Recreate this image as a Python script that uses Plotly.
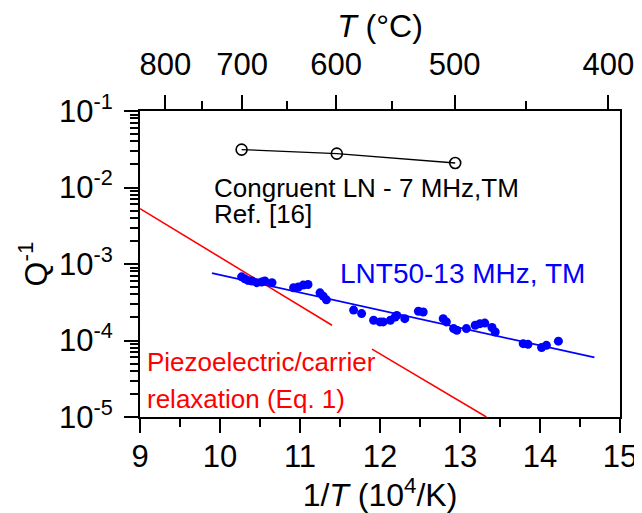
import plotly.graph_objects as go

# ---- data ----
# LNT50 13 MHz TM measured points: 1/T (10^4/K), Q^-1
lnt_x = [10.27, 10.31, 10.35, 10.40, 10.46, 10.52, 10.56, 10.65,
         10.92, 10.98, 11.04, 11.10, 11.25, 11.29, 11.33,
         11.67, 11.77, 11.92, 12.00, 12.04, 12.13, 12.19, 12.21, 12.31,
         12.48, 12.54, 12.79, 12.83, 12.92, 12.96, 13.08, 13.19, 13.25,
         13.31, 13.40, 13.44, 13.79, 13.85, 14.02, 14.08, 14.23]
lnt_y = [6.8e-4, 6.4e-4, 6.1e-4, 6.0e-4, 5.7e-4, 5.8e-4, 6.0e-4, 5.7e-4,
         4.9e-4, 5.0e-4, 5.3e-4, 5.4e-4, 4.2e-4, 3.8e-4, 3.4e-4,
         2.5e-4, 2.25e-4, 1.84e-4, 1.75e-4, 1.75e-4, 1.84e-4, 2.03e-4, 2.13e-4, 1.93e-4,
         2.41e-4, 2.36e-4, 1.93e-4, 1.75e-4, 1.43e-4, 1.36e-4, 1.43e-4, 1.58e-4, 1.66e-4,
         1.69e-4, 1.48e-4, 1.29e-4, 9.1e-5, 8.9e-5, 8.1e-5, 8.65e-5, 9.8e-5]

# LNT50 fit line
fit_x = [9.9, 14.68]
fit_y = [7.6e-4, 6.0e-5]

# Congruent LN 7 MHz TM (Ref. [16])
cln_x = [10.27, 11.46, 12.94]
cln_y = [0.0313, 0.0277, 0.0209]

# Piezoelectric/carrier relaxation (Eq. 1), drawn with a gap
pz_x = [9.0, 11.40, None, 11.90, 13.33]
pz_y = [5.3e-3, 1.58e-4, None, 7.7e-5, 1.0e-5]

# axis ticks
x_ticks = [9, 10, 11, 12, 13, 14, 15]
y_tickvals = [1e-5, 1e-4, 1e-3, 1e-2, 1e-1]
y_ticktext = ["10<sup>-5</sup>", "10<sup>-4</sup>", "10<sup>-3</sup>",
              "10<sup>-2</sup>", "10<sup>-1</sup>"]
top_T_major = [800, 700, 600, 500, 400]
top_T_minor = [750, 650, 550, 450]

# ---- derived tick positions (top axis: 1/T in 10^4/K) ----
top_major_pos = [1e4 / (t + 273.15) for t in top_T_major]
top_minor_pos = [1e4 / (t + 273.15) for t in top_T_minor]
y_minor = [m * 10 ** e for e in range(-5, -1) for m in range(2, 10)]

FONT = "Liberation Sans, Arial, sans-serif"
TICK_FS = 31
TITLE_FS = 32
ANN_FS = 26

fig = go.Figure()
fig.add_trace(go.Scatter(x=pz_x, y=pz_y, mode="lines",
                         line=dict(color="#ff0000", width=1.6), showlegend=False))
fig.add_trace(go.Scatter(x=fit_x, y=fit_y, mode="lines",
                         line=dict(color="#0000ff", width=1.8), showlegend=False))
fig.add_trace(go.Scatter(x=lnt_x, y=lnt_y, mode="markers",
                         marker=dict(color="#0000ff", size=9, line=dict(width=0)),
                         showlegend=False))
fig.add_trace(go.Scatter(x=cln_x, y=cln_y, mode="lines+markers",
                         line=dict(color="black", width=1.3),
                         marker=dict(symbol="circle-open", size=11, color="black",
                                     line=dict(width=1.6)),
                         showlegend=False))
# invisible trace to activate top axis
fig.add_trace(go.Scatter(x=[9, 15], y=[1e-5, 1e-5], xaxis="x2", mode="markers",
                         marker=dict(opacity=0), hoverinfo="skip", showlegend=False))

axis_common = dict(showline=True, linecolor="black", linewidth=2,
                   ticks="outside", ticklen=14, tickwidth=2, tickcolor="black",
                   showgrid=False, zeroline=False, automargin=False,
                   tickfont=dict(family=FONT, size=TICK_FS, color="black"))

# page body has an 8px margin, so the figure is offset by 8px right and down
fig.update_layout(
    template="none",
    width=634, height=505,
    margin=dict(l=132, r=22, t=103, b=96),
    paper_bgcolor="white", plot_bgcolor="white",
    font=dict(family=FONT, size=ANN_FS, color="black"),
    xaxis=dict(range=[9, 15], tickmode="array", tickvals=x_ticks,
               ticklabelstandoff=-3,
               minor=dict(ticks="outside", ticklen=8, tickwidth=2, tickcolor="black",
                          dtick=0.5, tick0=9, showgrid=False),
               title=dict(text="1/<i>T</i> (10<sup>4</sup>/K)",
                          font=dict(family=FONT, size=TITLE_FS)),
               **axis_common),
    xaxis2=dict(range=[9, 15], overlaying="x", side="top", anchor="y",
                tickmode="array", tickvals=top_major_pos, ticktext=[str(t) for t in top_T_major],
                ticklabelstandoff=8,
                minor=dict(ticks="outside", ticklen=8, tickwidth=2, tickcolor="black",
                           tickmode="array", tickvals=top_minor_pos, showgrid=False),
                title=dict(text="<i>T</i> (°C)", font=dict(family=FONT, size=TITLE_FS)),
                **axis_common),
    yaxis=dict(type="log", range=[-5, -1], tickmode="array",
               tickvals=y_tickvals, ticktext=y_ticktext, mirror=True,
               ticklabelstandoff=5,
               minor=dict(ticks="outside", ticklen=8, tickwidth=1.5, tickcolor="black",
                          tickmode="array", tickvals=y_minor, showgrid=False),
               **axis_common),
)

# y-axis title placed explicitly
fig.add_annotation(x=-0.222, y=0.5, xref="paper", yref="paper", text="Q<sup>-1</sup>",
                   textangle=-90, showarrow=False, xanchor="center", yanchor="middle",
                   font=dict(family=FONT, size=TITLE_FS, color="black"))

ann = dict(showarrow=False, xref="x", yref="y", xanchor="left", yanchor="middle")
fig.add_annotation(x=9.9, y=-2.01, text="Congruent LN - 7 MHz,TM",
                   font=dict(family=FONT, size=ANN_FS, color="black"), **ann)
fig.add_annotation(x=9.9, y=-2.35, text="Ref. [16]",
                   font=dict(family=FONT, size=ANN_FS, color="black"), **ann)
fig.add_annotation(x=11.475, y=-3.122, text="LNT50-13 MHz, TM",
                   font=dict(family=FONT, size=28, color="#0000ff"), **ann)
fig.add_annotation(x=9.06, y=-4.285, text="Piezoelectric/carrier",
                   font=dict(family=FONT, size=ANN_FS, color="#ff0000"), **ann)
fig.add_annotation(x=9.06, y=-4.769, text="relaxation (Eq. 1)",
                   font=dict(family=FONT, size=ANN_FS, color="#ff0000"), **ann)

fig.write_html("out.html")
